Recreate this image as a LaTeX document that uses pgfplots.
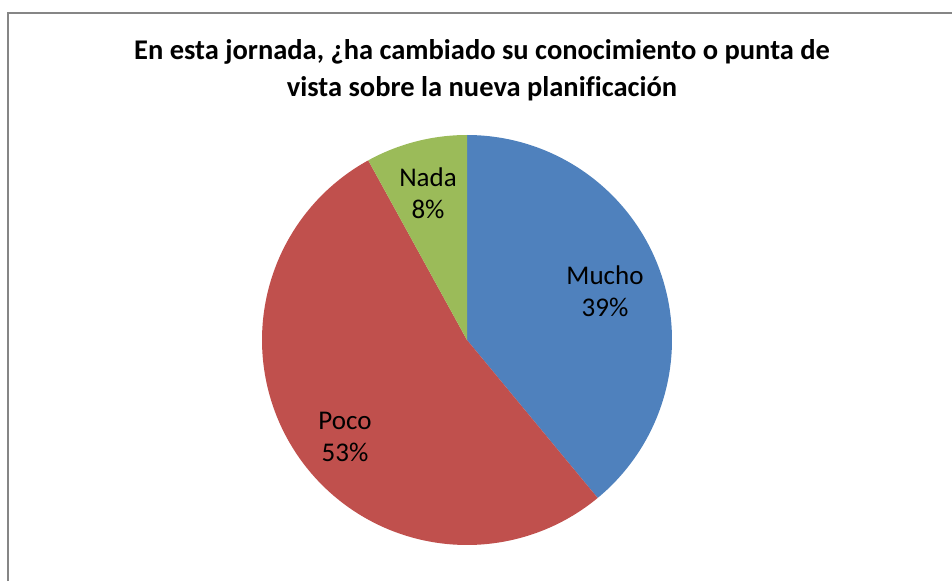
\documentclass[border=0pt]{standalone}
\usepackage{pgfplots}
\pgfplotsset{compat=1.18}
\usepackage{fontspec}
\setmainfont{Carlito}[Ligatures={NoCommon}]
\definecolor{cMucho}{HTML}{4F81BD}
\definecolor{cPoco}{HTML}{C0504D}
\definecolor{cNada}{HTML}{9BBB59}
\definecolor{frame}{HTML}{868686}
% data (percent)
\def\vMucho{39}
\def\vPoco{53}
\def\vNada{8}
\begin{document}
\begin{tikzpicture}
\useasboundingbox (0,0) rectangle (952pt,581pt);
\pgfmathsetmacro\aS{90}
\pgfmathsetmacro\aA{90-3.6*\vMucho}
\pgfmathsetmacro\aB{\aA-3.6*\vPoco}
\pgfmathsetmacro\aC{\aB-3.6*\vNada}
\begin{axis}[at={(0,0)}, anchor=south west, width=952pt, height=581pt,
  scale only axis, xmin=0, xmax=952, ymin=0, ymax=581, hide axis, clip=false]
  \addplot[draw=none, fill=cMucho, domain=\aA:\aS, samples=120, variable=\t]
    ({467+205*cos(\t)},{241+205*sin(\t)}) -- (axis cs:467,241) -- cycle;
  \addplot[draw=none, fill=cPoco, domain=\aB:\aA, samples=160, variable=\t]
    ({467+205*cos(\t)},{241+205*sin(\t)}) -- (axis cs:467,241) -- cycle;
  \addplot[draw=none, fill=cNada, domain=\aC:\aB, samples=40, variable=\t]
    ({467+205*cos(\t)},{241+205*sin(\t)}) -- (axis cs:467,241) -- cycle;
  \draw[frame, line width=2pt] (axis cs:8,0) -- (axis cs:8,568) -- (axis cs:952,568);
  \node[align=center, font=\fontsize{27}{32}\selectfont] at (axis cs:605,290) {Mucho\\\vMucho\%};
  \node[align=center, font=\fontsize{27}{32}\selectfont] at (axis cs:345,144) {Poco\\\vPoco\%};
  \node[align=center, font=\fontsize{27}{32}\selectfont] at (axis cs:428,388) {Nada\\\vNada\%};
  \node[align=center, font=\fontsize{28.5}{37}\selectfont\bfseries] at (axis cs:482,511)
    {En esta jornada, ¿ha cambiado su conocimiento o punta de\\vista sobre la nueva planificación};
\end{axis}
\end{tikzpicture}
\end{document}
